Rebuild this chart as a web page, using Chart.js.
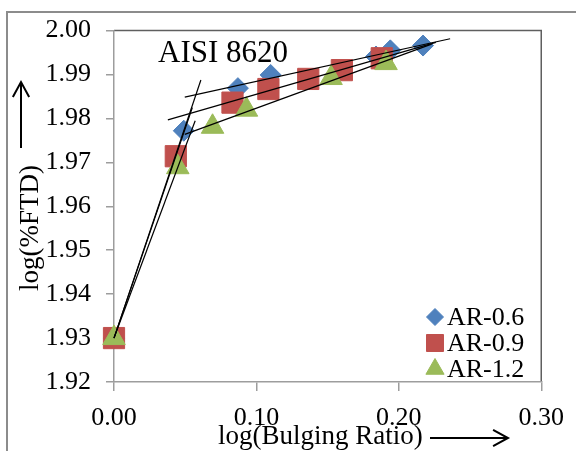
<!DOCTYPE html>
<html>
<head>
<meta charset="utf-8">
<script src="https://cdn.jsdelivr.net/npm/chart.js@4/dist/chart.umd.min.js"></script>
<style>
  html, body { margin: 0; padding: 0; background: #fff; }
  #wrap { width: 576px; height: 451px; }
</style>
</head>
<body>
<div id="wrap"><canvas id="chart" width="576" height="451"></canvas></div>
<script>
// log(Bulging Ratio) vs log(%FTD), AISI 8620
const seriesNames = ['AR-0.6', 'AR-0.9', 'AR-1.2'];

const ar06X = [0, 0.049, 0.087, 0.110, 0.184, 0.194, 0.217];
const ar06Y = [1.930, 1.9772, 1.9869, 1.9899, 1.9941, 1.9955, 1.9966];

const ar09X = [0, 0.0434, 0.0832, 0.1084, 0.1364, 0.160, 0.188];
const ar09Y = [1.930, 1.9714, 1.9836, 1.9867, 1.9890, 1.9910, 1.9937];

const ar12X = [0, 0.0448, 0.0692, 0.093, 0.1524, 0.191];
const ar12Y = [1.930, 1.9689, 1.9781, 1.9820, 1.9892, 1.9926];

// two linear fits per series: [first point index, end index), drawn over span
const ar06Fits = [{ pts: [0, 2], span: [0, 0.061] }, { pts: [2, 7], span: [0.0497, 0.236] }];
const ar09Fits = [{ pts: [0, 2], span: [0, 0.055] }, { pts: [2, 7], span: [0.0378, 0.226] }];
const ar12Fits = [{ pts: [0, 2], span: [0, 0.057] }, { pts: [2, 6], span: [0.0497, 0.223] }];

const xTicks = [0, 0.10, 0.20, 0.30];
const yTicks = [1.92, 1.93, 1.94, 1.95, 1.96, 1.97, 1.98, 1.99, 2.00];

const colors = ['#4F81BD', '#C0504D', '#9BBB59'];
const pointStyles = ['rectRot', 'rect', 'triangle'];
const pointSizes = [10.5, 15, 13];
const legendSizes = [8.5, 12, 10.5];
const serif = '"Liberation Serif", "Times New Roman", serif';

function linFit(xs, ys) {
    const n = xs.length;
    const mx = xs.reduce((a, b) => a + b, 0) / n;
    const my = ys.reduce((a, b) => a + b, 0) / n;
    let sxy = 0, sxx = 0;
    for (let i = 0; i < n; i++) {
        sxy += (xs[i] - mx) * (ys[i] - my);
        sxx += (xs[i] - mx) * (xs[i] - mx);
    }
    const b = sxy / sxx;
    return { a: my - b * mx, b };
}

function fitLines(xs, ys, fits) {
    return fits.map(f => {
        const lf = linFit(xs.slice(f.pts[0], f.pts[1]), ys.slice(f.pts[0], f.pts[1]));
        return {
            type: 'scatter',
            data: f.span.map(x => ({ x, y: lf.a + lf.b * x })),
            showLine: true,
            borderColor: '#000',
            borderWidth: 1.2,
            pointRadius: 0,
            fill: false,
            order: 0,
            clip: false,
        };
    });
}

function pointSet(i, xs, ys) {
    return {
        label: seriesNames[i],
        data: xs.map((x, k) => ({ x, y: ys[k] })),
        backgroundColor: colors[i],
        borderColor: colors[i],
        borderWidth: 1,
        pointStyle: pointStyles[i],
        pointRadius: pointSizes[i],
        pointHoverRadius: pointSizes[i],
        showLine: false,
        order: 3 - i,
        clip: false,
    };
}

function arrow(ctx, x1, y1, x2, y2) {
    const ang = Math.atan2(y2 - y1, x2 - x1);
    const hl = 17, hw = 0.5;
    ctx.beginPath();
    ctx.moveTo(x1, y1);
    ctx.lineTo(x2, y2);
    ctx.moveTo(x2 - hl * Math.cos(ang - hw), y2 - hl * Math.sin(ang - hw));
    ctx.lineTo(x2, y2);
    ctx.lineTo(x2 - hl * Math.cos(ang + hw), y2 - hl * Math.sin(ang + hw));
    ctx.stroke();
}

const decorations = {
    id: 'decorations',
    beforeDraw(chart) {
        const ctx = chart.ctx;
        ctx.save();
        ctx.fillStyle = '#fff';
        ctx.fillRect(0, 0, chart.width, chart.height);
        // outer frame
        ctx.strokeStyle = '#8c8c8c';
        ctx.lineWidth = 2;
        ctx.beginPath();
        ctx.moveTo(7, chart.height);
        ctx.lineTo(7, 12);
        ctx.lineTo(chart.width, 12);
        ctx.stroke();
        // plot area border, top and right
        const a = chart.chartArea;
        ctx.strokeStyle = '#5f5f5f';
        ctx.lineWidth = 1.5;
        ctx.beginPath();
        ctx.moveTo(a.left, a.top);
        ctx.lineTo(a.right, a.top);
        ctx.lineTo(a.right, a.bottom);
        ctx.stroke();
        ctx.restore();
    },
    afterDraw(chart) {
        const ctx = chart.ctx;
        ctx.save();
        ctx.fillStyle = '#000';
        ctx.strokeStyle = '#000';
        ctx.lineWidth = 2;

        ctx.font = '31px ' + serif;
        ctx.textAlign = 'left';
        ctx.textBaseline = 'alphabetic';
        ctx.fillText('AISI 8620', 158, 62);

        // axis titles with arrows
        ctx.font = '27px ' + serif;
        ctx.fillText('log(Bulging Ratio)', 218, 444);
        arrow(ctx, 430, 438, 508, 438);

        ctx.save();
        ctx.translate(38, 228);
        ctx.rotate(-Math.PI / 2);
        ctx.textAlign = 'center';
        ctx.fillText('log(%FTD)', 0, 0);
        ctx.restore();
        arrow(ctx, 21, 148, 21, 82);

        // legend
        const rows = [317, 343, 369];
        ctx.font = '26px ' + serif;
        ctx.textBaseline = 'middle';
        ctx.textAlign = 'left';
        seriesNames.forEach((name, i) => {
            ctx.fillStyle = colors[i];
            ctx.strokeStyle = colors[i];
            ctx.lineWidth = 1;
            Chart.helpers.drawPoint(ctx, {
                pointStyle: pointStyles[i],
                radius: legendSizes[i],
                rotation: 0,
                borderWidth: 1,
            }, 435, rows[i]);
            ctx.fillStyle = '#000';
            ctx.fillText(name, 447, rows[i] + 1);
        });
        ctx.restore();
    }
};

const axisColor = '#9d9d9d';

new Chart(document.getElementById('chart'), {
    type: 'scatter',
    data: {
        datasets: [
            pointSet(0, ar06X, ar06Y),
            pointSet(1, ar09X, ar09Y),
            pointSet(2, ar12X, ar12Y),
            ...fitLines(ar06X, ar06Y, ar06Fits),
            ...fitLines(ar09X, ar09Y, ar09Fits),
            ...fitLines(ar12X, ar12Y, ar12Fits),
        ]
    },
    options: {
        responsive: false,
        animation: false,
        layout: { padding: { left: 0, right: 34, top: 27, bottom: 0 } },
        plugins: {
            legend: { display: false },
            tooltip: { enabled: false },
        },
        scales: {
            x: {
                type: 'linear',
                min: 0,
                max: 0.30,
                afterFit: s => { s.height = 69; },
                afterBuildTicks: s => { s.ticks = xTicks.map(v => ({ value: v })); },
                grid: { drawOnChartArea: false, drawTicks: true, tickLength: 9, color: axisColor, lineWidth: 1.5 },
                border: { color: axisColor, width: 1.5 },
                ticks: {
                    color: '#000',
                    padding: 12,
                    font: { family: serif, size: 26 },
                    callback: v => Number(v).toFixed(2),
                },
            },
            y: {
                type: 'linear',
                min: 1.92,
                max: 2.00,
                afterFit: s => { s.width = 114; },
                afterBuildTicks: s => { s.ticks = yTicks.map(v => ({ value: v })); },
                grid: { drawOnChartArea: false, drawTicks: true, tickLength: 8, color: axisColor, lineWidth: 1.5 },
                border: { color: axisColor, width: 1.5 },
                ticks: {
                    color: '#000',
                    padding: 15,
                    font: { family: serif, size: 26 },
                    callback: v => Number(v).toFixed(2),
                },
            },
        },
    },
    plugins: [decorations],
});
</script>
</body>
</html>
